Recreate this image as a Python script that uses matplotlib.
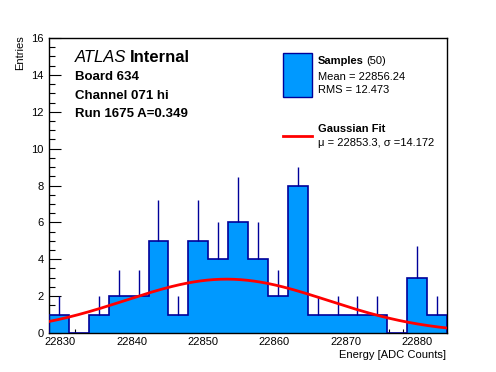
import numpy as np
import matplotlib
matplotlib.use('Agg')
import matplotlib.pyplot as plt
from matplotlib.ticker import MultipleLocator

plt.rcParams.update({
    'font.family': ['Liberation Sans', 'DejaVu Sans'],
    'font.size': 8,
    'axes.linewidth': 1.0,
})

# histogram of ADC samples (20 bins)
x_lo, x_hi = 22828.4, 22884.2
counts = [1, 0, 1, 2, 2, 5, 1, 5, 4, 6, 4, 2, 8, 1, 1, 1, 1, 0, 3, 1]
# upper error bar lengths as drawn
err_up = [1.0, 0, 1.0, 1.41, 1.41, 2.24, 1.0, 2.24, 2.0, 2.45,
          2.0, 1.41, 1.0, 1.0, 1.0, 1.0, 1.0, 0, 1.73, 1.0]

# gaussian fit parameters
fit_amp = 2.92
fit_mu = 22853.3
fit_sigma = 14.172

fill_c = '#0099ff'
edge_c = '#000099'

edges = np.linspace(x_lo, x_hi, len(counts) + 1)
counts = np.array(counts, dtype=float)
err_up = np.array(err_up)
centers = 0.5 * (edges[:-1] + edges[1:])

fig = plt.figure(figsize=(4.96, 3.72), dpi=100)
ax = fig.add_axes([49 / 496, 1 - 333 / 372, 398 / 496, 295 / 372])

ax.stairs(counts, edges, fill=True, facecolor=fill_c, linewidth=0, zorder=2)
ax.stairs(counts, edges, baseline=0, color=edge_c, linewidth=1.2, zorder=3)
nz = counts > 0
ax.vlines(centers[nz], counts[nz], counts[nz] + err_up[nz],
          color=edge_c, linewidth=1.0, zorder=3)

xf = np.linspace(x_lo, x_hi, 300)
yf = fit_amp * np.exp(-0.5 * ((xf - fit_mu) / fit_sigma) ** 2)
ax.plot(xf, yf, color='#ff0000', linewidth=2.0, zorder=4)

ax.set_xlim(x_lo, x_hi)
ax.set_ylim(0, 16)
ax.xaxis.set_major_locator(MultipleLocator(10))
ax.xaxis.set_minor_locator(MultipleLocator(2))
ax.yaxis.set_major_locator(MultipleLocator(2))
ax.yaxis.set_minor_locator(MultipleLocator(0.5))
ax.tick_params(axis='both', which='both', direction='in', labelsize=8)
ax.tick_params(axis='x', which='major', length=6.5, width=0.8, pad=3)
ax.tick_params(axis='x', which='minor', length=3.2, width=0.8)
ax.tick_params(axis='y', which='major', length=8.6, width=0.8, pad=4)
ax.tick_params(axis='y', which='minor', length=4.3, width=0.8)
ax.xaxis.get_major_formatter().set_useOffset(False)

fig.text(20 / 496, 1 - 35 / 372, 'Entries', rotation=90, ha='center', va='top', fontsize=8)
fig.text(446 / 496, 1 - 355 / 372, 'Energy [ADC Counts]', ha='right', va='center', fontsize=8)

# ATLAS label block
fig.text(75 / 496, 1 - 58 / 372, 'ATLAS', style='italic', fontsize=12, va='center')
fig.text(130 / 496, 1 - 58 / 372, 'Internal', weight='bold', fontsize=12, va='center')
fig.text(75 / 496, 1 - 77 / 372, 'Board 634', weight='bold', fontsize=9.5, va='center')
fig.text(75 / 496, 1 - 96 / 372, 'Channel 071 hi', weight='bold', fontsize=9.5, va='center')
fig.text(75 / 496, 1 - 114 / 372, 'Run 1675 A=0.349', weight='bold', fontsize=9.5, va='center')

# legend
fig.patches.append(plt.Rectangle((283 / 496, 1 - 97 / 372), 29 / 496, 44 / 372,
                                 transform=fig.transFigure, facecolor=fill_c,
                                 edgecolor=edge_c, linewidth=1.0))
fig.text(318 / 496, 1 - 61 / 372, 'Samples', weight='bold', fontsize=8, va='center')
fig.text(366 / 496, 1 - 61 / 372, '(50)', fontsize=8, va='center')
fig.text(318 / 496, 1 - 77 / 372, 'Mean = 22856.24', fontsize=8, va='center')
fig.text(318 / 496, 1 - 90 / 372, 'RMS = 12.473', fontsize=8, va='center')
fig.lines.append(plt.Line2D([283 / 496, 312 / 496], [1 - 136 / 372, 1 - 136 / 372],
                            transform=fig.transFigure, color='#ff0000', linewidth=2.0))
fig.text(318 / 496, 1 - 129 / 372, 'Gaussian Fit', weight='bold', fontsize=8, va='center')
fig.text(318 / 496, 1 - 143 / 372, '\u03bc = 22853.3, \u03c3 =14.172', fontsize=8, va='center')

fig.savefig('out.png', dpi=100)
